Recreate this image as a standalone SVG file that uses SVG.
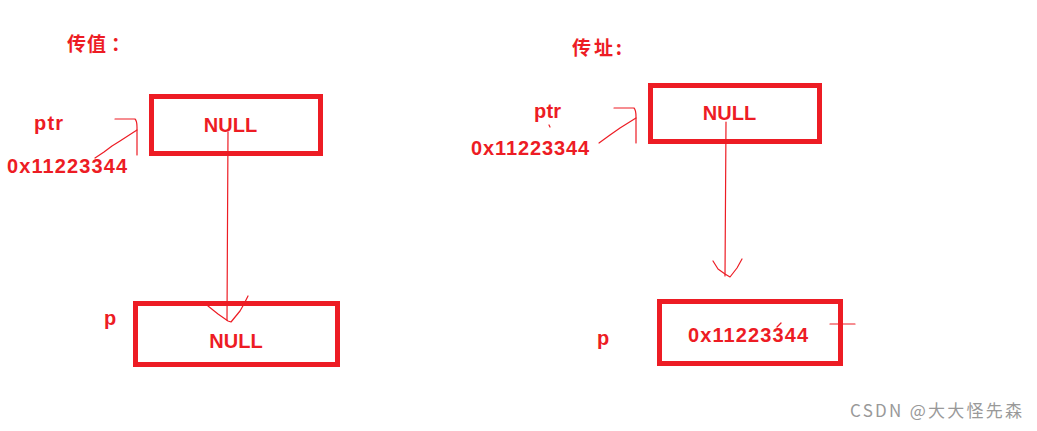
<svg xmlns="http://www.w3.org/2000/svg" width="1037" height="431" viewBox="0 0 1037 431">
<style>
.box{fill:none;stroke:#ED1C24;stroke-width:5}
.t{fill:#ED1C24;font-family:"Liberation Sans","Noto Sans CJK SC",sans-serif;font-weight:bold;font-size:20px}
.h{fill:#ED1C24;font-family:"Noto Sans CJK SC",sans-serif;font-weight:bold;font-size:19px}
.ln{fill:none;stroke:#ED1C24;stroke-width:1.2;stroke-linecap:round;stroke-linejoin:round}
.wm{fill:#999999;font-family:"Noto Sans CJK SC",sans-serif;font-size:17px}
</style>
<rect width="1037" height="431" fill="#ffffff"/>
<text class="h" x="67 87 111" y="51">传值：</text>
<text class="h" x="572" y="55" textLength="50">传址:</text>
<g id="ptr-left">
<rect class="box" x="151.5" y="96.5" width="169" height="57"/>
<text class="t" x="230.5" y="132" text-anchor="middle">NULL</text>
<text class="t" x="34" y="130" textLength="29">ptr</text>
<text class="t" x="7" y="173" textLength="120">0x11223344</text>
</g>
<g id="p-left">
<rect class="box" x="135.5" y="303.5" width="202" height="61"/>
<text class="t" x="236" y="348" text-anchor="middle">NULL</text>
<text class="t" x="104" y="325">p</text>
</g>
<g id="ptr-right">
<rect class="box" x="650.5" y="85.5" width="169" height="56"/>
<text class="t" x="729.5" y="120" text-anchor="middle">NULL</text>
<text class="t" x="534" y="118" textLength="27">ptr</text>
<text class="t" x="471" y="155" textLength="118">0x11223344</text>
</g>
<g id="p-right">
<rect class="box" x="659.5" y="301.5" width="181" height="62"/>
<text class="t" x="688" y="342" textLength="120">0x11223344</text>
<text class="t" x="597" y="345">p</text>
</g>
<g id="connectors">
<path class="ln" d="M115,119 L135,119 Q137,121 137,127 L137,155"/>
<path class="ln" d="M137,130 L120,141 L112,146 L104,152 L95,158"/>
<path class="ln" d="M228,132 L227,320"/>
<path class="ln" d="M208,306 L218,314 L228,321 L231,322 L240,311 L244,304 L248,296"/>
<path class="ln" d="M614,108 L634,108 Q636,110 636,117 L636,143"/>
<path class="ln" d="M636,118 L620,128 L610,135 L599,143"/>
<path class="ln" d="M549,125 L550,127"/>
<path class="ln" d="M726,122 L725,276"/>
<path class="ln" d="M713,261 L718,269 L725,274 L730,277 L737,268 L742,259"/>
<path class="ln" d="M777,327 L781,323"/>
<path class="ln" d="M830,324 L855,324"/>
</g>
<text class="wm" x="850" y="417" textLength="172">CSDN @大大怪先森</text>
</svg>
